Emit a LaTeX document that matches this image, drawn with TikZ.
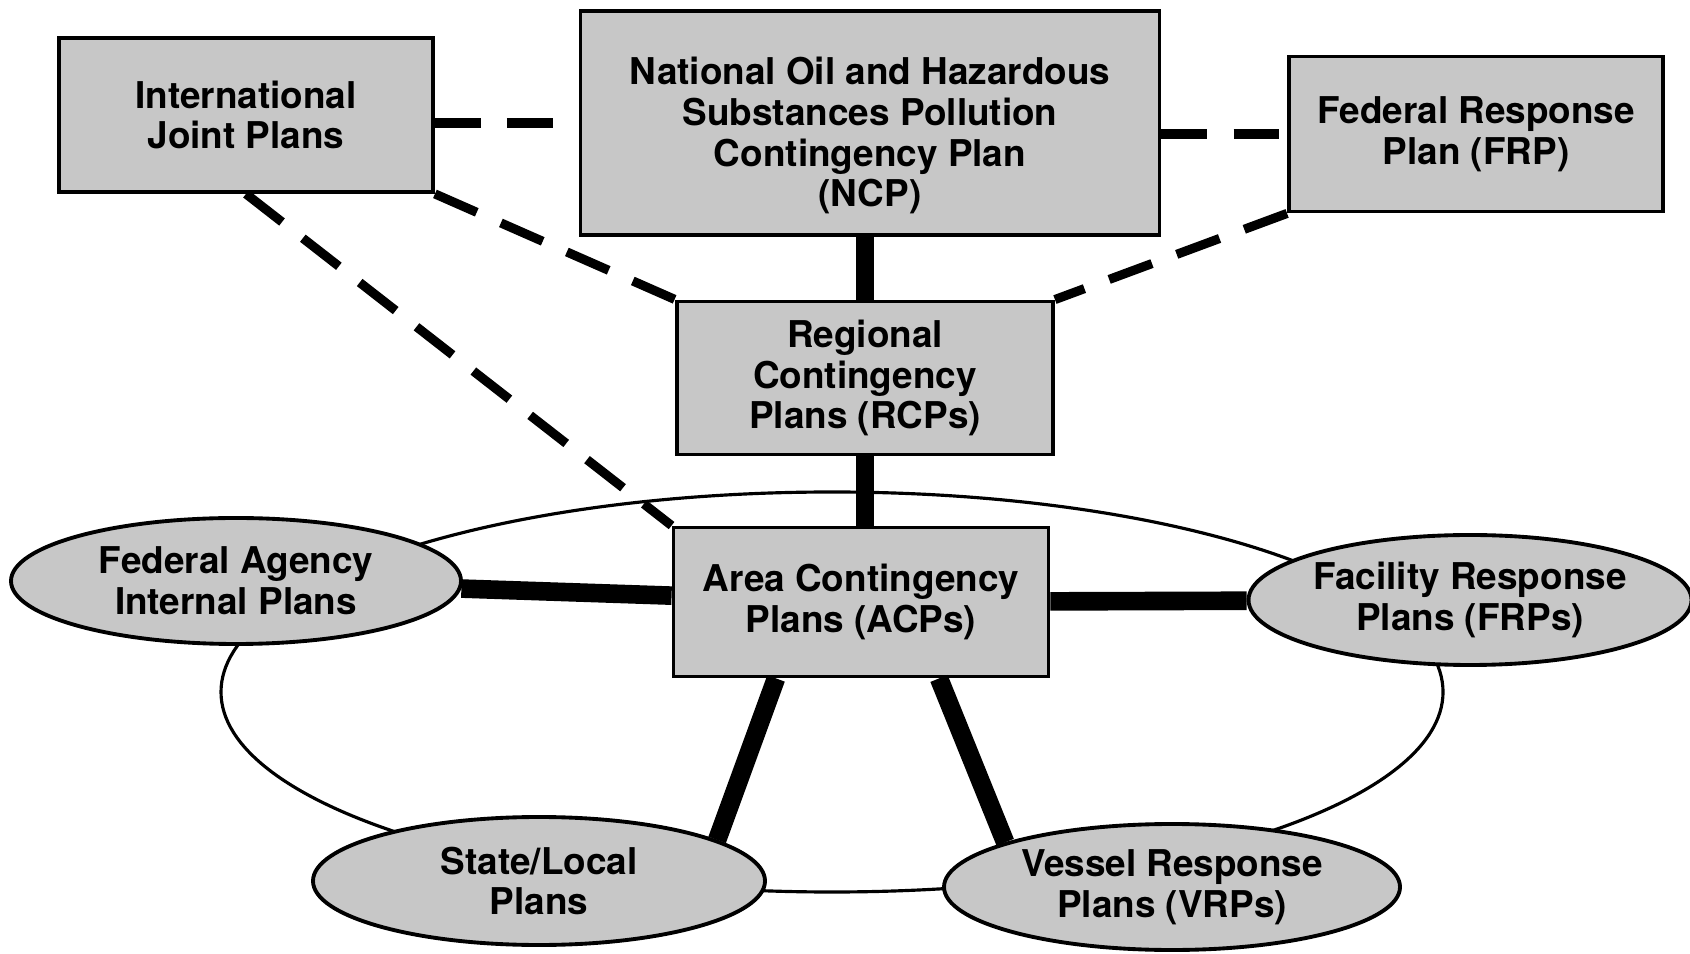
\documentclass[tikz,border=0pt]{standalone}
\usepackage{fontspec}
\setmainfont{TeX Gyre Heros}
\usetikzlibrary{shapes.geometric}

\begin{document}
\begin{tikzpicture}[
            plan/.style={draw, line width=1.1pt, fill=black!22, align=center, inner sep=0pt},
            oval/.style={ellipse, draw, line width=1.1pt, fill=black!22, align=center, inner sep=0pt},
            link/.style={line width=5.3pt},
            dlink/.style={line width=2.6pt, dash pattern=on 13pt off 7.5pt},
            font=\fontsize{10.5pt}{11.6pt}\selectfont\bfseries]
            \useasboundingbox (0,0) rectangle (16.90,9.53);
            \draw [line width=0.9pt] (8.32,2.61) ellipse (6.11 and 2.00);
            \node [plan, minimum width=3.74cm, minimum height=1.54cm] (IJP) at (2.46,8.38) {International\\Joint Plans};
            \node [plan, minimum width=5.79cm, minimum height=2.24cm] (NCP) at (8.70,8.30) {\rule{0pt}{15pt}National Oil and Hazardous\\Substances Pollution\\Contingency Plan\\(NCP)};
            \node [plan, minimum width=3.74cm, minimum height=1.55cm] (FRP) at (14.76,8.19) {Federal Response\\Plan (FRP)};
            \node [plan, minimum width=3.76cm, minimum height=1.53cm] (RCP) at (8.65,5.75) {Regional\\Contingency\\Plans (RCPs)};
            \node [plan, minimum width=3.75cm, minimum height=1.49cm] (ACP) at (8.61,3.51) {Area Contingency\\Plans (ACPs)};
            \node [oval, minimum width=4.50cm, minimum height=1.26cm] (FA) at (2.36,3.72) {Federal Agency\\Internal Plans};
            \node [oval, minimum width=4.40cm, minimum height=1.30cm] (FRPs) at (14.70,3.53) {Facility Response\\Plans (FRPs)};
            \node [oval, minimum width=4.52cm, minimum height=1.28cm] (SL) at (5.39,0.72) {State/Local\\Plans};
            \node [oval, minimum width=4.56cm, minimum height=1.26cm] (VRPs) at (11.72,0.66) {Vessel Response\\Plans (VRPs)};
            \draw [dlink] ([yshift=-0.08cm]IJP.east) -- ([yshift=-0.08cm]IJP.east -| NCP.west);
            \draw [dlink] (FRP.west -| NCP.east) -- (FRP.west);
            \draw [dlink] (IJP.south east) -- (RCP.north west);
            \draw [dlink] (FRP.south west) -- (RCP.north east);
            \draw [dlink] (IJP.south) -- (ACP.north west);
            \draw [link] (RCP.north |- NCP.south) -- (RCP.north);
            \draw [link] (RCP.south) -- (RCP.south |- ACP.north);
            \draw [link] (FA) -- (ACP);
            \draw [link] (ACP) -- (FRPs);
            \draw [link] ([xshift=-0.85cm]ACP.south) -- (SL.13);
            \draw [link] ([xshift=0.78cm]ACP.south) -- (VRPs.165);
        \end{tikzpicture}
\end{document}
